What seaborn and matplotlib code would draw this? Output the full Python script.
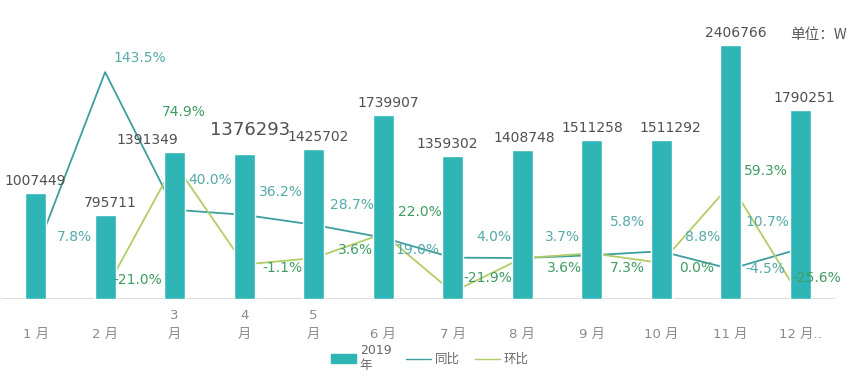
import numpy as np
import pandas as pd
import seaborn as sns
import matplotlib.pyplot as plt
from matplotlib.patches import Patch
from matplotlib.lines import Line2D

# ---------------- data ----------------
months = ["1 月", "2 月", "3\n月", "4\n月", "5\n月", "6 月",
          "7 月", "8 月", "9 月", "10 月", "11 月", "12 月.."]
sales_2019 = [1007449, 795711, 1391349, 1376293, 1425702, 1739907,
              1359302, 1408748, 1511258, 1511292, 2406766, 1790251]
yoy = [7.8, 143.5, 40.0, 36.2, 28.7, 19.0, 4.0, 3.7, 5.8, 8.8, -4.5, 10.7]   # 同比
mom = [-21.0, 74.9, -1.1, 3.6, 22.0, -21.9, 3.6, 7.3, 0.0, 59.3, -25.6]      # 环比 (2月起)

# label nudges in pixels (layout only)
bar_dx = [0, 5, -27, 6, 5, 5, -5, 2, 1, 9, 5, 4]
yoy_off = [(39, 16), (35, 14), (36, 30), (37, 23), (38, 20), (34, -12),
           (41, 21), (40, 21), (36, 33), (41, 14), (35, 0), (-33, 27)]
mom_off = [(33, 11), (9, 51), (38, -4), (42, 8), (37, 22), (35, 14),
           (42, -10), (36, -15), (35, -5), (35, 13), (17, 19)]

BAR = "#2fb5b5"
YOY_LINE = "#3e9e9e"
MOM_LINE = "#b2cc66"
YOY_TXT = "#55a9a9"
MOM_TXT = "#3f9c62"

sns.set_style("white")
plt.rcParams['font.family'] = ['DejaVu Sans', 'Noto Sans CJK SC']

fig, ax = plt.subplots(figsize=(8.6, 3.87), dpi=100)
ax2 = ax.twinx()
for a in (ax, ax2):
    a.set_position([0.001, 0.2274, 0.9698, 0.7209])

x = np.arange(len(months))
df = pd.DataFrame({"m": x, "v": sales_2019})
sns.barplot(data=df, x="m", y="v", color=BAR, width=0.3, saturation=1, ax=ax)

sns.lineplot(x=x, y=yoy, color=YOY_LINE, linewidth=1.3, ax=ax2)
sns.lineplot(x=x[1:], y=mom, color=MOM_LINE, linewidth=1.3, ax=ax2)

# bars above the lines
ax.set_zorder(2)
ax.patch.set_visible(False)
ax2.set_zorder(1)

ax.set_xlim(-0.5, 11.5)
ax2.set_xlim(-0.5, 11.5)
ax.set_ylim(0, 2.645e6)
ax2.set_ylim(-27.1, 182.7)

for a in (ax, ax2):
    a.set_yticks([])
    a.set_ylabel("")
    for s in a.spines.values():
        s.set_visible(False)
ax.set_xlabel("")
ax.axhline(0, color="#d9d9d9", linewidth=1.2, zorder=0)

ax.set_xticks(x)
ax.set_xticklabels(months, fontsize=9.5, color="#8a8a8a", linespacing=1.6)
ax.tick_params(axis="x", length=0, pad=30)
for lab in ax.get_xticklabels():
    lab.set_verticalalignment("bottom")

# bar value labels
for i, v in enumerate(sales_2019):
    fs = 13 if i == 3 else 10
    ax.annotate(f"{v}", (i, v), xytext=(bar_dx[i], 12 if i != 3 else 24),
                textcoords="offset pixels", ha="center", va="center",
                fontsize=fs, color="#505050")

# percentage labels (drawn on top axes, positioned in the % scale)
for i, v in enumerate(yoy):
    ax.annotate(f"{v:.1f}%", (i, v), xycoords=ax2.transData,
                xytext=yoy_off[i], textcoords="offset pixels",
                ha="center", va="center", fontsize=10, color=YOY_TXT)
for j, v in enumerate(mom):
    ax.annotate(f"{v:.1f}%", (j + 1, v), xycoords=ax2.transData,
                xytext=mom_off[j], textcoords="offset pixels",
                ha="center", va="center", fontsize=10, color=MOM_TXT)

fig.text(0.985, 0.91, "单位：W", ha="right", va="center",
         fontsize=10.5, color="#595959",
         family=['Noto Sans CJK SC', 'DejaVu Sans'])

handles = [Patch(color=BAR), Line2D([], [], color=YOY_LINE, lw=1),
           Line2D([], [], color=MOM_LINE, lw=1)]
fig.legend(handles, ["2019\n年", "同比", "环比"], loc="center",
           bbox_to_anchor=(0.5, 0.075), ncol=3, frameon=False,
           fontsize=9, labelcolor="#666666", handlelength=2,
           handletextpad=0.3, columnspacing=1.2)

plt.savefig("out.png", dpi=100)
